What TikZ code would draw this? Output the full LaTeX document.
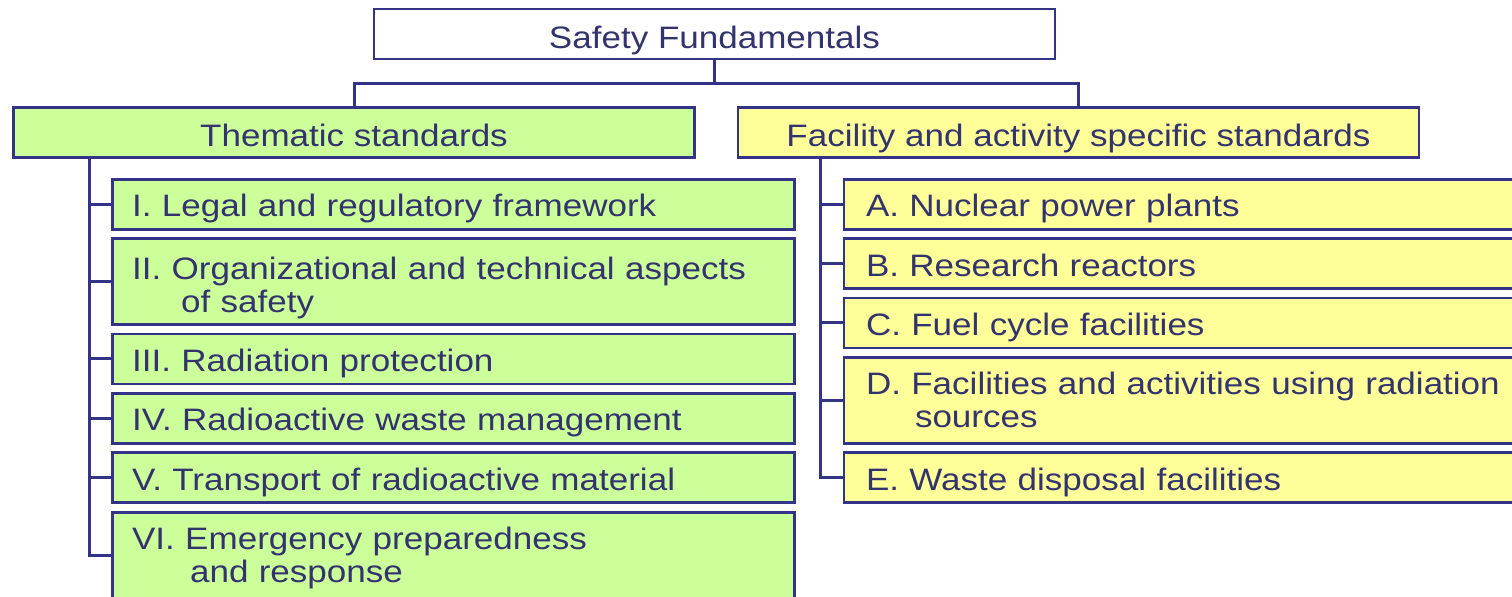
\documentclass[tikz,border=0pt]{standalone}
\usepackage{fontspec}
\setmainfont{Liberation Sans}[FakeStretch=1.13]
\usetikzlibrary{positioning}
\definecolor{navy}{RGB}{51,51,136}
\definecolor{navytext}{RGB}{51,51,110}
\definecolor{thgreen}{RGB}{204,255,153}
\definecolor{facyellow}{RGB}{255,255,153}

\begin{document}
\begin{tikzpicture}[x=0.5pt, y=-0.5pt,
  every node/.style={text=navytext, font=\fontsize{15.5}{16.5}\selectfont},
  box/.style={draw=navy, line width=1.4pt, minimum height=25pt, inner ysep=2pt},
  head/.style={box, minimum width=340.5pt, text height=14pt, text depth=0pt},
  item/.style={box, anchor=north west, align=left, text width=321pt, inner xsep=10pt,
    text height=12.5pt, text depth=0pt, fill=thgreen},
  facitem/.style={item, text width=330pt, inner xsep=11pt, fill=facyellow},
  tall/.style={minimum height=43pt, text height=, text depth=17pt},
  link/.style={draw=navy, line width=1.5pt}]
\useasboundingbox (0,0) rectangle (1512,596);
\clip (0,0) rectangle (1512,596);

\node[head, fill=white] (top) at (714.5,34) {Safety Fundamentals};
\node[head, fill=thgreen] (thematic) at (354,132.5) {Thematic standards};
\node[head, fill=facyellow] (facility) at (1078.5,132.5) {Facility and activity specific standards};

\coordinate (bar) at (715,83);
\draw[link] (top.south) -- (top.south |- bar);
\draw[link] (thematic.north) |- (bar) -| (facility.north);

% thematic standards
\node[item, below right=9.4pt and 49.3pt of thematic.south west] (t1) {I. Legal and regulatory framework};
\node[item, tall, text depth=13pt, below=3.3pt of t1] (t2) {II. Organizational and technical aspects\\\hspace*{24.5pt}of safety};
\node[item, below=3.3pt of t2] (t3) {III. Radiation protection};
\node[item, below=3.3pt of t3] (t4) {IV. Radioactive waste management};
\node[item, below=3.3pt of t4] (t5) {V. Transport of radioactive material};
\node[item, tall, below=3.3pt of t5] (t6) {VI. Emergency preparedness\\\hspace*{29pt}and response};

\coordinate (tt) at ([xshift=38.8pt]thematic.south west);
\draw[link] (tt) |- (t6.west);
\foreach \i in {1,...,5}
  \draw[link] (t\i.west -| tt) -- (t\i.west);

% facility and activity specific standards
\node[facitem, below right=9.4pt and 53pt of facility.south west] (f1) {A. Nuclear power plants};
\node[facitem, below=3.3pt of f1] (f2) {B. Research reactors};
\node[facitem, below=3.3pt of f2] (f3) {C. Fuel cycle facilities};
\node[facitem, tall, below=3.3pt of f3] (f4) {D. Facilities and activities using radiation\\\hspace*{24.5pt}sources};
\node[facitem, below=3.3pt of f4] (f5) {E. Waste disposal facilities};

\coordinate (ft) at ([xshift=41.8pt]facility.south west);
\draw[link] (ft) |- (f5.west);
\foreach \i in {1,...,4}
  \draw[link] (f\i.west -| ft) -- (f\i.west);

\end{tikzpicture}
\end{document}
